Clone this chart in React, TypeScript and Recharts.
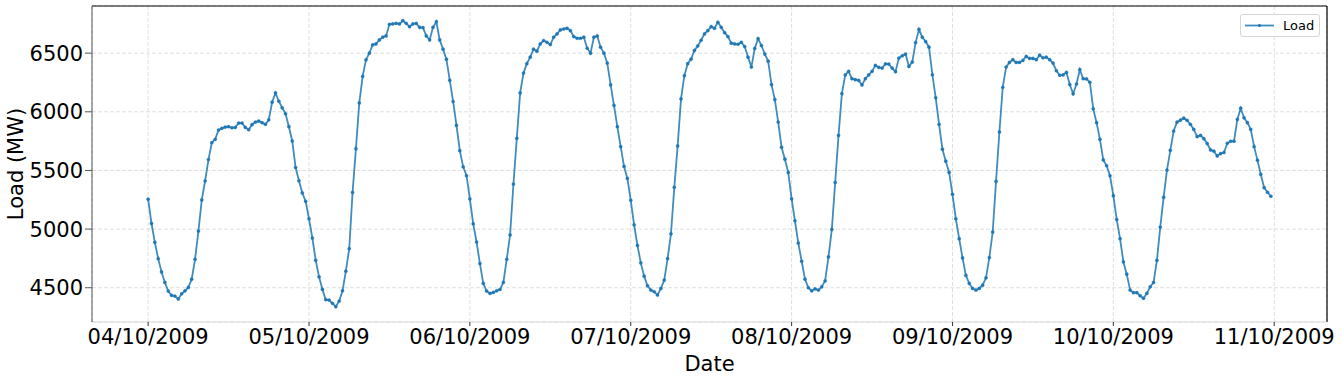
import React from 'react';
import {
  LineChart, Line, XAxis, YAxis, CartesianGrid, Legend, ReferenceLine
} from 'recharts';

// half-hourly load, 04/10/2009 00:00 -> 10/10/2009 23:30
const loadMW = [
  5255, 5048, 4887, 4748, 4635, 4545, 4472, 4435, 4429, 4404,
  4449, 4474, 4503, 4573, 4743, 4983, 5249, 5410, 5593, 5737,
  5765, 5845, 5859, 5870, 5873, 5864, 5867, 5904, 5904, 5867,
  5847, 5890, 5912, 5921, 5907, 5893, 5932, 6082, 6161, 6090,
  6034, 5983, 5873, 5751, 5525, 5412, 5308, 5237, 5088, 4924,
  4734, 4593, 4486, 4398, 4395, 4367, 4339, 4387, 4474, 4641,
  4833, 5313, 5686, 6076, 6302, 6443, 6500, 6571, 6579, 6613,
  6636, 6647, 6746, 6749, 6754, 6749, 6777, 6754, 6726, 6749,
  6754, 6720, 6718, 6647, 6613, 6720, 6768, 6613, 6534, 6449,
  6268, 6088, 5884, 5669, 5531, 5455, 5257, 5045, 4890, 4706,
  4537, 4472, 4452, 4460, 4474, 4486, 4545, 4743, 4950, 5384,
  5774, 6161, 6330, 6410, 6466, 6534, 6517, 6579, 6607, 6593,
  6573, 6636, 6664, 6698, 6706, 6712, 6692, 6641, 6627, 6627,
  6636, 6542, 6500, 6636, 6647, 6551, 6500, 6415, 6229, 6054,
  5873, 5703, 5534, 5432, 5246, 5037, 4861, 4712, 4599, 4517,
  4480, 4466, 4438, 4494, 4565, 4749, 4960, 5356, 5709, 6110,
  6308, 6410, 6449, 6523, 6562, 6610, 6664, 6692, 6726, 6712,
  6763, 6720, 6675, 6641, 6585, 6579, 6576, 6593, 6556, 6466,
  6381, 6540, 6624, 6565, 6492, 6432, 6232, 6104, 5912, 5698,
  5596, 5483, 5257, 5071, 4881, 4726, 4573, 4500, 4474, 4491,
  4480, 4508, 4559, 4763, 4997, 5398, 5799, 6155, 6314, 6345,
  6282, 6274, 6268, 6229, 6282, 6314, 6345, 6395, 6379, 6373,
  6408, 6407, 6373, 6342, 6458, 6477, 6492, 6387, 6424, 6590,
  6703, 6636, 6599, 6551, 6316, 6119, 5893, 5681, 5579, 5483,
  5297, 5088, 4918, 4754, 4605, 4537, 4494, 4480, 4494, 4522,
  4585, 4757, 4975, 5407, 5828, 6209, 6381, 6421, 6444, 6421,
  6421, 6438, 6472, 6455, 6455, 6444, 6483, 6460, 6466, 6444,
  6415, 6350, 6311, 6314, 6336, 6232, 6153, 6237, 6359, 6282,
  6280, 6251, 6025, 5907, 5765, 5590, 5540, 5455, 5285, 5082,
  4918, 4720, 4616, 4480, 4458, 4458, 4432, 4410, 4452, 4508,
  4545, 4734, 5017, 5271, 5503, 5672, 5836, 5912, 5929, 5946,
  5927, 5893, 5850, 5788, 5799, 5771, 5729, 5675, 5664, 5624,
  5644, 5653, 5732, 5749, 5749, 5935, 6031, 5949, 5907, 5850,
  5703, 5588, 5466, 5353, 5314, 5280,
];

const dayLabels = [
  '04/10/2009', '05/10/2009', '06/10/2009', '07/10/2009',
  '08/10/2009', '09/10/2009', '10/10/2009', '11/10/2009',
];
const slotsPerDay = 48;
const yTicks = [4500, 5000, 5500, 6000, 6500];

const data = loadMW.map((load, slot) => ({ slot, load }));
const dayTicks = dayLabels.map((_, i) => i * slotsPerDay);

const font = 'DejaVu Sans, sans-serif';
const blue = '#1f77b4';
const xDomain: [number, number] = [-16.75, 351.75];
const yDomain: [number, number] = [4208, 6902];

const LegendBox = () => (
  <div style={{
    border: '1px solid #d6d6d6', borderRadius: 3, background: 'rgba(255,255,255,0.8)',
    width: 78, height: 21, display: 'flex', alignItems: 'center', fontFamily: font, fontSize: 13,
  }}>
    <svg width={40} height={21}>
      <line x1={4} y1={10.5} x2={33} y2={10.5} stroke={blue} strokeOpacity={0.85} strokeWidth={1.8} />
      <circle cx={18.5} cy={10.5} r={1.6} fill={blue} />
    </svg>
    <span style={{ color: '#000', marginLeft: 2 }}>Load</span>
  </div>
);

const App: React.FC = () => {
  return (
    <div style={{ position: 'absolute', left: 0, top: 0 }}>
      <LineChart width={1343} height={381} data={data}
        margin={{ top: 6, right: 16, bottom: 0, left: 0 }}>
        <CartesianGrid stroke="#dedede" strokeDasharray="4 2" />
        <XAxis
          dataKey="slot" type="number" domain={xDomain} ticks={dayTicks} interval={0}
          allowDataOverflow height={59}
          tickFormatter={(v: number) => dayLabels[Math.round(v / slotsPerDay)]}
          tick={{ fontSize: 21, fill: '#000', fontFamily: font }}
          tickSize={4} tickMargin={3}
          axisLine={{ stroke: '#d9d9d9' }} tickLine={{ stroke: '#333' }}
          label={{ value: 'Date', position: 'insideBottom', offset: 10,
            style: { fontSize: 21, fill: '#000', fontFamily: font } }}
        />
        <YAxis
          type="number" domain={yDomain} ticks={yTicks} allowDataOverflow width={92}
          tick={{ fontSize: 21, fill: '#000', fontFamily: font }}
          tickSize={7} tickMargin={2}
          axisLine={{ stroke: '#555' }} tickLine={{ stroke: '#555' }}
          label={{ value: 'Load (MW)', angle: -90, position: 'insideLeft', offset: 16,
            style: { fontSize: 21, fill: '#000', fontFamily: font, textAnchor: 'middle' } }}
        />
        <ReferenceLine y={yDomain[1]} stroke="#000" strokeWidth={1.2} />
        <ReferenceLine x={xDomain[1]} stroke="#000" strokeWidth={1.2} />
        <Legend layout="vertical" align="center" verticalAlign="middle"
          wrapperStyle={{ left: 1240, top: 14, width: 80, height: 23 }}
          content={() => <LegendBox />} />
        <Line
          type="linear" dataKey="load" name="Load" stroke={blue} strokeOpacity={0.85}
          strokeWidth={1.8} isAnimationActive={false} activeDot={false}
          dot={{ r: 1.6, fill: blue, stroke: blue, strokeWidth: 0.4 }}
        />
      </LineChart>
    </div>
  );
};

export default App;
